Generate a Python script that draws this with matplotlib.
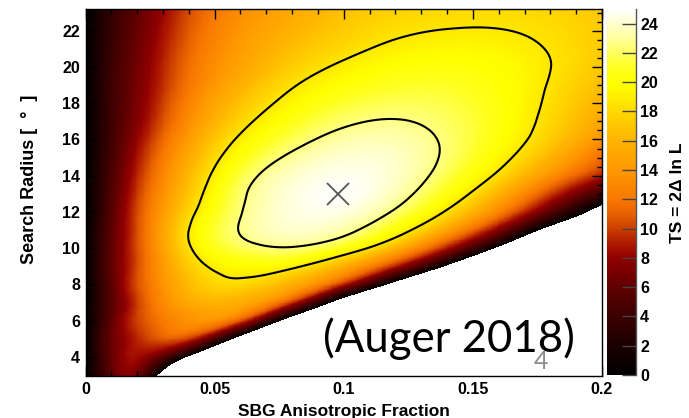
import numpy as np
import matplotlib
matplotlib.use("Agg")
import matplotlib.pyplot as plt
import matplotlib.tri as mtri
from matplotlib.colors import LinearSegmentedColormap
from matplotlib.ticker import MultipleLocator, FuncFormatter

plt.rcParams["font.family"] = ["Liberation Sans", "DejaVu Sans"]

# ---- scan grid: anisotropic fraction (columns) x search radius (rows) ----
# negative TS marks the unphysical part of the scan (left blank)
fraction = [0.00, 0.01, 0.02, 0.04, 0.06, 0.08, 0.10, 0.12, 0.14, 0.16, 0.18, 0.20]
radius = [2.9, 4, 5, 6, 7, 8, 9, 10, 11, 12, 13, 14, 15, 16, 17, 18, 19,
          20, 21, 22, 23.2]

ts_r03 = [0, 5.8, 6.5, -14.0, -22.0, -28.0, -32.0, -34.0, -36.0, -37.0, -38.0, -39.0]
ts_r04 = [0, 6.2, 8.5, -0.4, -12.0, -20.0, -26.0, -30.0, -32.0, -34.0, -35.0, -36.0]
ts_r05 = [0, 6.3, 9.3, 9.8, -2.0, -14.0, -23.0, -29.0, -32.0, -34.0, -35.0, -36.0]
ts_r06 = [0, 6.0, 10.0, 13.6, 10.5, -3.0, -13.0, -21.0, -26.0, -29.0, -31.0, -33.0]
ts_r07 = [0, 5.6, 9.9, 15.15, 15.47, 9.52, -3.0, -12.0, -20.0, -26.0, -30.0, -33.0]
ts_r08 = [0, 5.8, 10.45, 16.33, 18.0, 15.67, 9.10, -1.7, -12.0, -20.0, -26.0, -30.0]
ts_r09 = [0, 6.0, 10.3, 17.3, 19.8, 19.17, 15.58, 9.01, -0.55, -12.0, -20.0, -26.0]
ts_r10 = [0, 6.0, 10.4, 18.4, 21.77, 22.43, 20.47, 15.88, 8.75, -0.85, -12.0, -20.0]
ts_r11 = [0, 5.8, 10.4, 18.7, 22.7, 23.95, 23.22, 20.09, 14.78, 7.38, -2.04, -9.0]
ts_r12 = [0, 5.5, 10.25, 17.9, 22.5, 24.32, 24.37, 22.31, 18.39, 12.77, 5.53, -2.5]
ts_r13 = [0, 5.25, 9.82, 17.04, 22.2, 24.3, 24.88, 23.5, 20.43, 15.88, 9.98, 4.0]
ts_r14 = [0, 4.95, 9.28, 16.24, 21.5, 23.9, 24.65, 23.93, 21.68, 18.2, 13.59, 9.0]
ts_r15 = [0, 4.6, 8.71, 15.35, 20.35, 23.0, 24.1, 23.88, 22.26, 19.56, 15.91, 11.41]
ts_r16 = [0, 4.3, 8.10, 14.37, 19.1, 21.82, 23.25, 23.42, 22.31, 20.23, 17.32, 13.65]
ts_r17 = [0, 4.2, 7.5, 13.4, 17.9, 20.68, 22.26, 22.7, 22.03, 20.45, 17.95, 15.14]
ts_r18 = [0, 4.1, 7.2, 12.7, 16.8, 19.55, 21.2, 21.87, 21.59, 20.37, 18.3, 15.86]
ts_r19 = [0, 4.05, 7.0, 12.0, 15.75, 18.5, 20.12, 20.97, 21.01, 20.16, 18.55, 16.5]
ts_r20 = [0, 3.95, 6.8, 11.6, 14.95, 17.45, 19.1, 20.08, 20.35, 19.86, 18.72, 17.06]
ts_r21 = [0, 3.85, 6.6, 11.2, 14.4, 16.6, 18.1, 19.16, 19.58, 19.38, 18.58, 17.31]
ts_r22 = [0, 3.65, 6.3, 10.8, 13.9, 15.9, 17.35, 18.35, 18.77, 18.77, 18.25, 17.28]
ts_r23 = [0, 3.5, 6.0, 10.3, 13.3, 15.2, 16.6, 17.61, 18.02, 18.1, 17.81, 17.1]

# best fit and 1/2 sigma contour levels
best_fraction = 0.0976
best_radius = 13.0
contour_levels = [18.7, 22.6]

ts_ticks = list(range(0, 25, 2))
ts_range = (0, 25)

# ---- colour palette ----
palette = [
    (0, "#000000"), (2, "#1c0000"), (4, "#3c0000"), (6, "#600000"),
    (8, "#900000"), (9, "#b01800"), (10, "#cc4000"), (11, "#e86000"),
    (12, "#f87800"), (14, "#ff9800"), (16, "#ffb400"), (18, "#ffd800"),
    (19.5, "#fff800"), (20, "#ffff00"), (21, "#ffff20"), (23, "#ffff99"),
    (25, "#ffffff"),
]
cmap = LinearSegmentedColormap.from_list(
    "ts_heat", [(v / ts_range[1], c) for v, c in palette])

# ---- smooth surface through the grid ----
ts = np.array([ts_r03, ts_r04, ts_r05, ts_r06, ts_r07, ts_r08, ts_r09,
               ts_r10, ts_r11, ts_r12, ts_r13, ts_r14, ts_r15, ts_r16,
               ts_r17, ts_r18, ts_r19, ts_r20, ts_r21, ts_r22, ts_r23],
              dtype=float)
FX, RY = np.meshgrid(fraction, radius)
nx, ny = len(fraction), len(radius)
idx = np.arange(nx * ny).reshape(ny, nx)
tris = []
for j in range(ny - 1):
    for i in range(nx - 1):
        a, b, c, d = idx[j, i], idx[j, i + 1], idx[j + 1, i + 1], idx[j + 1, i]
        tris += [[a, b, c], [a, c, d]]
triang = mtri.Triangulation(FX.ravel(), RY.ravel(), np.array(tris))
refiner = mtri.UniformTriRefiner(triang)
tri_fine, ts_fine = refiner.refine_field(ts.ravel(), subdiv=4)

# ---- figure ----
W, H = 689, 418
fig = plt.figure(figsize=(W / 100, H / 100), dpi=100)
ax = fig.add_axes([85.5 / W, 42 / H, (602 - 85.5) / W, (376 - 9) / H])
cax = fig.add_axes([607 / W, 43 / H, 29 / W, 366 / H])

pcm = ax.tripcolor(tri_fine, ts_fine, shading="gouraud", cmap=cmap,
                   vmin=ts_range[0], vmax=ts_range[1], rasterized=True)
# region where the scan is unphysical
ax.tricontourf(tri_fine, ts_fine, levels=[-1000, -0.3], colors="white",
               zorder=2)
ax.tricontour(tri_fine, ts_fine, levels=contour_levels, colors="black",
              linewidths=1.5, zorder=3)
ax.plot(best_fraction, best_radius, marker="x", ms=16, mew=1.3,
        color="#555555", zorder=4)

ax.set_xlim(0, 0.2)
ax.set_ylim(2.95, 23.2)
ax.xaxis.set_major_locator(MultipleLocator(0.05))
ax.xaxis.set_minor_locator(MultipleLocator(0.01))
ax.yaxis.set_major_locator(MultipleLocator(2))
ax.yaxis.set_minor_locator(MultipleLocator(0.5))
ax.xaxis.set_major_formatter(FuncFormatter(lambda v, p: f"{v:g}"))
ax.tick_params(which="both", direction="in", top=True, right=True,
               labelsize=11.5, pad=4, width=1, colors="black")
ax.tick_params(which="major", length=7)
ax.tick_params(which="minor", length=3.5)
for lab in ax.get_xticklabels() + ax.get_yticklabels():
    lab.set_fontweight("bold")
for s in ax.spines.values():
    s.set_linewidth(1)
    s.set_zorder(5)

cb = fig.colorbar(pcm, cax=cax, ticks=ts_ticks)
cb.outline.set_visible(False)
cb.solids.set_rasterized(True)
cax.plot([1, 1], [0, 1], transform=cax.transAxes, color="#555555",
         lw=1, clip_on=False)
cax.tick_params(direction="in", length=10, width=1, color="#444444",
                labelsize=11.5, pad=3)
for lab in cax.get_yticklabels():
    lab.set_fontweight("bold")

fig.text(344 / W, 1 - 416 / H, "SBG Anisotropic Fraction", ha="center",
         va="baseline", fontsize=12.5, fontweight="bold")
fig.text(30 / W, 1 - 179 / H, "Search Radius [  °  ]", ha="center",
         va="center", rotation=90, fontsize=13, fontweight="bold")
fig.text(677 / W, 1 - 193 / H, "TS = 2Δ ln L", ha="center", va="center",
         rotation=90, fontsize=12.5, fontweight="bold")

ax.text(0.46, 0.065, "(Auger 2018)", transform=ax.transAxes, ha="left",
        va="baseline", fontsize=31.5, family="Lato", color="black", zorder=6)
fig.text(541 / W, 1 - 369 / H, "4", ha="center", va="baseline",
         fontsize=18, family="Lato", color="#8c8c8c", zorder=6)

fig.savefig("out.png", dpi=100)
